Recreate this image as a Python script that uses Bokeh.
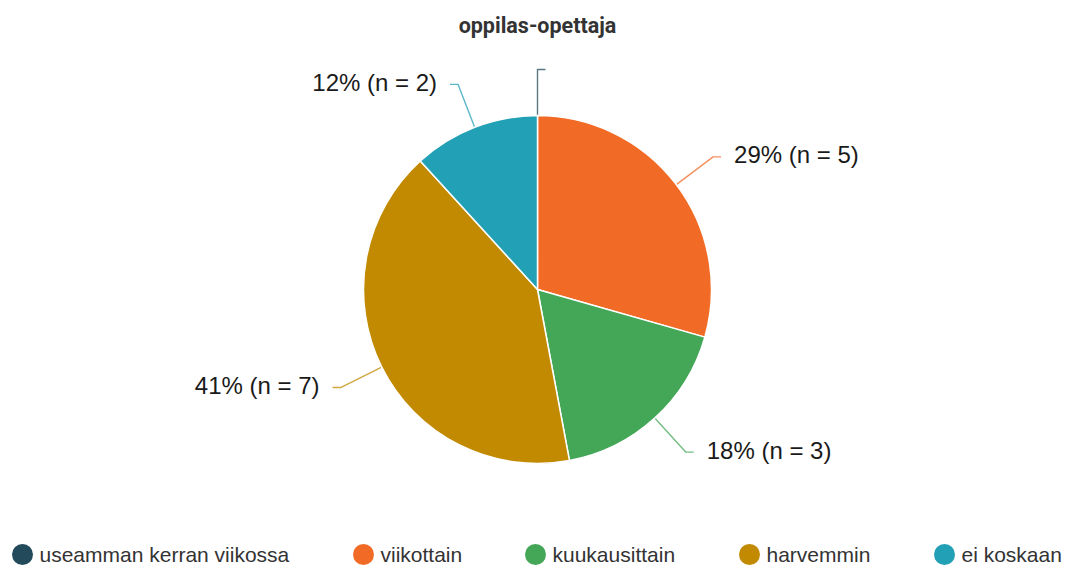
import math
from bokeh.plotting import figure
from bokeh.models import Range1d, ColumnDataSource
from bokeh.core.properties import value
from bokeh.embed import file_html
from bokeh.resources import INLINE

# ---- data ----
title_text = "oppilas-opettaja"
categories = ["useamman kerran viikossa", "viikottain", "kuukausittain", "harvemmin", "ei koskaan"]
counts = [0, 5, 3, 7, 2]
colors = ["#234a5b", "#f26b26", "#43a757", "#c18a00", "#22a0b5"]

# ---- layout ----
W, H = 1068, 566
CX, CY = 537, H - 289
R = 174
LEADER = 46
HSEG = 8
GAP = 13
legend_x = [22, 363, 535, 749, 944]
LEGEND_Y = H - 554

p = figure(width=W, height=H, output_backend="svg", toolbar_location=None,
           x_range=Range1d(0, W), y_range=Range1d(0, H), min_border=0)
p.xaxis.visible = False
p.yaxis.visible = False
p.grid.visible = False
p.outline_line_color = None
p.background_fill_color = "white"
p.border_fill_color = "white"

total = sum(counts)
wedge = dict(start=[], end=[], color=[])
lead = dict(xs=[], ys=[], color=[])
lab = dict(x=[], y=[], text=[], align=[])
cum = 0
for c, col in zip(counts, colors):
    f0 = cum / total
    f1 = (cum + c) / total
    cum += c
    s = math.pi / 2 - 2 * math.pi * f0
    e = math.pi / 2 - 2 * math.pi * f1
    if c > 0:
        wedge["start"].append(s)
        wedge["end"].append(e)
        wedge["color"].append(col)
    mid = (s + e) / 2
    dx, dy = math.cos(mid), math.sin(mid)
    side = 1 if dx >= -1e-9 else -1
    x0, y0 = CX + R * dx, CY + R * dy
    x1, y1 = CX + (R + LEADER) * dx, CY + (R + LEADER) * dy
    x2 = x1 + side * HSEG
    lead["xs"].append([x0, x1, x2])
    lead["ys"].append([y0, y1, y1])
    lead["color"].append(col)
    if c > 0:
        lab["x"].append(x2 + side * GAP)
        lab["y"].append(y1 + 2)
        lab["text"].append(f"{round(100 * c / total)}% (n = {c})")
        lab["align"].append("left" if side > 0 else "right")

p.multi_line(xs="xs", ys="ys", line_color="color", line_alpha=0.75, line_width=1.4,
             source=ColumnDataSource(lead))
p.wedge(x=CX, y=CY, radius=R, start_angle="start", end_angle="end", direction="clock",
        fill_color="color", line_color="white", line_width=1.5,
        source=ColumnDataSource(wedge))
p.text(x="x", y="y", text="text", text_align="align", text_baseline="middle",
       text_font=value("Liberation Sans"), text_font_size="24px", text_color="#1a1a1a",
       source=ColumnDataSource(lab))

# title
p.text(x=[CX], y=[H - 25], text=[title_text], text_align="center", text_baseline="middle",
       text_font=value("Roboto"), text_font_style="bold", text_font_size="21.5px",
       text_color="#333333")

# legend
p.scatter(x=legend_x, y=[LEGEND_Y] * len(legend_x), size=21, marker="circle",
          fill_color=colors, line_color=None)
p.text(x=[x + 17 for x in legend_x], y=[LEGEND_Y] * len(legend_x), text=categories,
       text_align="left", text_baseline="middle", text_font=value("Liberation Sans"),
       text_font_size="21px", text_color="#333333")

open("out.html", "w").write(file_html(p, INLINE))
